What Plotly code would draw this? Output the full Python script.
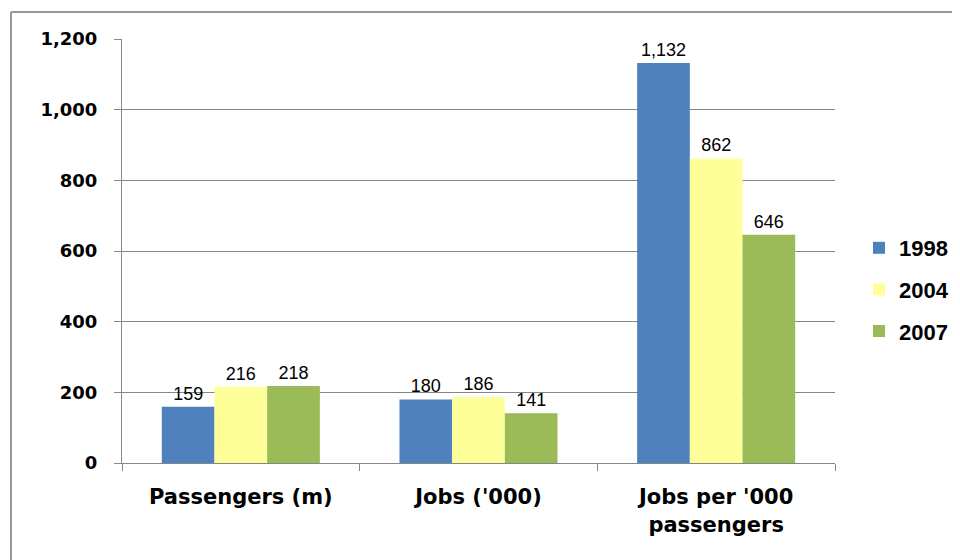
import plotly.graph_objects as go

categories = ["Passengers (m)", "Jobs ('000)", "Jobs per '000<br>passengers"]
years = ["1998", "2004", "2007"]
values_1998 = [159, 180, 1132]
values_2004 = [216, 186, 862]
values_2007 = [218, 141, 646]
colors = ["#4F81BD", "#FFFF99", "#9BBB59"]
y_ticks = [0, 200, 400, 600, 800, 1000, 1200]
y_tick_labels = ["0", "200", "400", "600", "800", "1,000", "1,200"]

series = [values_1998, values_2004, values_2007]

# page is offset by the 8px body margin; work in figure pixels
W, H = 952, 552
L, T = 114, 31
PR, PB = 827, 455
R, B = W - PR, H - PB
pw, ph = PR - L, PB - T

fig = go.Figure()
for i, (yr, vals) in enumerate(zip(years, series)):
    fig.add_trace(go.Bar(
        x=categories, y=vals, name=yr,
        marker=dict(color=colors[i], line=dict(width=0)),
        texttemplate="%{y:,.0f}", textposition="outside",
        textfont=dict(family="Liberation Sans, Arial", size=18, color="black"),
        cliponaxis=False, legendgroup=yr,
    ))

bx = (3 - L) / pw
by = 1 + (T - 4) / ph
bx_right = (W - L) / pw
by_bottom = -(H - PB) / ph

fig.update_layout(
    width=W, height=H,
    margin=dict(l=L, r=R, t=T, b=B, pad=0, autoexpand=False),
    barmode="group", bargap=0.335, bargroupgap=0,
    paper_bgcolor="white", plot_bgcolor="white",
    font=dict(family="Liberation Sans, Arial", color="black"),
    legend=dict(
        xref="container", yref="container",
        x=851 / W, y=1 - 219 / H, xanchor="left", yanchor="top",
        font=dict(size=22, family="Liberation Sans, Arial", color="black", weight="bold"),
        tracegroupgap=10, itemwidth=30, bgcolor="rgba(0,0,0,0)", borderwidth=0,
    ),
    showlegend=True,
    shapes=[
        dict(type="line", xref="paper", yref="paper", x0=bx, x1=bx, y0=by_bottom, y1=by,
             line=dict(color="#999999", width=2), layer="below"),
        dict(type="line", xref="paper", yref="paper", x0=bx, x1=bx_right, y0=by, y1=by,
             line=dict(color="#999999", width=2), layer="below"),
    ],
)
fig.update_xaxes(
    showline=True, linecolor="#868686", linewidth=1,
    ticks="outside", tickson="boundaries", ticklen=7, tickcolor="#868686",
    tickfont=dict(size=21, family="DejaVu Sans", color="black", weight="bold"),
    ticklabelstandoff=15,
    showgrid=False, automargin=False,
)
fig.update_yaxes(
    range=[0, 1200], tickvals=y_ticks, ticktext=y_tick_labels,
    showline=True, linecolor="#868686", linewidth=1,
    ticks="outside", ticklen=7, tickcolor="#868686",
    showgrid=True, gridcolor="#868686", gridwidth=1,
    zeroline=False,
    tickfont=dict(size=18, family="DejaVu Sans", color="black", weight="bold"),
    ticklabelstandoff=13, automargin=False,
)

fig.write_html("out.html", config={"displayModeBar": False},
               post_script="document.documentElement.style.overflow='hidden';document.body.style.overflow='hidden';")
